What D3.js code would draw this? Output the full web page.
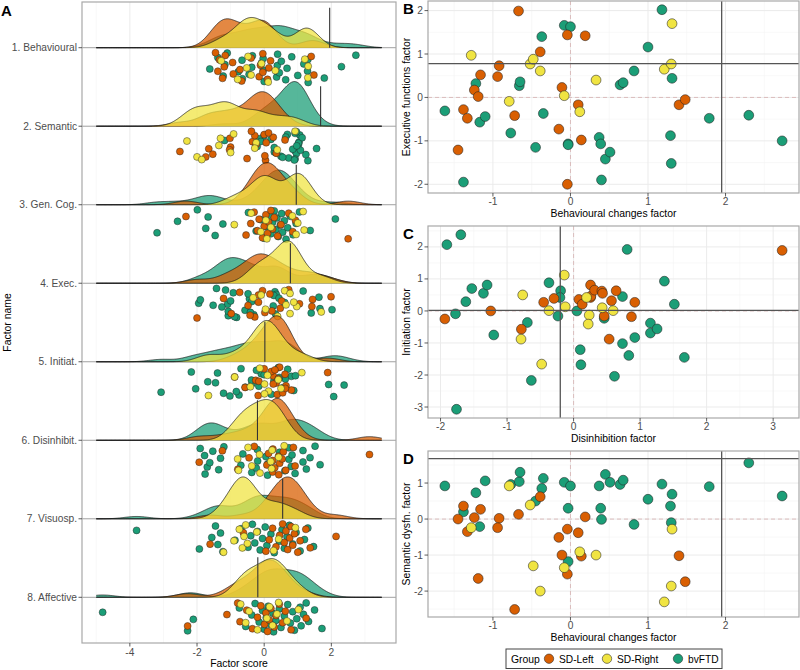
<!DOCTYPE html>
<html><head><meta charset="utf-8">
<script src="https://cdn.jsdelivr.net/npm/d3@7"></script>
<style>body{margin:0;background:#fff} text{font-family:"Liberation Sans",Arial,Helvetica,sans-serif}</style>
</head><body><svg id="chart" width="800" height="670"></svg>
<script>
// ---------------- DATA ----------------
const groups = ["SD-Left", "SD-Right", "bvFTD"];
const groupColors = ["#D95F02", "#F0E442", "#1B9E77"];
const factorNames = ["1. Behavioural", "2. Semantic", "3. Gen. Cog.", "4. Exec.", "5. Initiat.", "6. Disinhibit.", "7. Visuosp.", "8. Affective"];
const cutoffs = [1.95, 1.68, 0.955, 0.78, 0.02, -0.2, 0.55, -0.19];
const scoreTicks = [-4, -2, 0, 2];
const densityFrom = -5, densityTo = 3.5;

// SD-Left
const behavLeft = [-1.45,-1.38,-1.33,-1.24,-1.19,-1.16,-0.92,-0.94,-0.67,-0.72,-0.39,-0.15,-0.11,-0.04,-0.04,0.19,0.10,0.14,1.40,1.48];
const execLeft = [-1.21,-0.28,-0.48,0.17,0.02,0.52,0.73,0.48,1.99,-0.42,1.05,-0.73,0.23,1.44,-2.00,1.42,-0.17,-0.98,-0.17,-0.05];
const semLeft = [0.00,0.36,-0.35,0.04,-1.65,0.27,0.02,-0.24,0.13,-2.51,0.62,-0.51,-1.00,-0.28,-1.53,0.06,-0.38,-1.03,-1.02,-1.74];
const disinhLeft = [-1.935,-1.245,-0.785,-0.45,-0.295,0.08,0.13,0.255,0.255,0.26,0.315,0.425,0.435,0.46,0.57,0.64,0.535,0.87,0.92,3.135];
const initLeft = [-0.25,0.00,-0.57,0.27,0.39,0.36,0.21,0.81,0.42,0.46,0.65,0.62,0.55,-0.16,0.32,0.63,-0.88,-0.18,0.27,1.89];
const genCogLeft = [-2.33,-0.54,-0.4,-0.3,-0.2,-0.15,-0.05,0.0,0.05,0.1,0.13,0.2,0.25,0.3,0.4,0.5,0.73,0.85,0.93,2.50];
const visuoLeft = [-1.61,-0.62,0.05,0.15,0.25,0.35,0.46,0.55,0.6,0.65,0.7,0.76,0.8,0.85,0.9,1.0,1.07,1.24,1.37,2.14];
const affectLeft = [-2.28,-1.11,-0.79,-0.72,-0.52,-0.35,-0.2,-0.1,0.01,0.05,0.1,0.15,0.2,0.3,0.35,0.45,0.55,0.63,0.8,1.25];

// SD-Right
const behavRight = [-1.28,-0.79,-0.52,-0.48,-0.39,-0.08,0.12,0.33,1.21,1.30,1.31];
const execRight = [0.97,-0.09,0.77,0.88,0.61,0.04,-0.33,0.40,0.65,0.77,1.70];
const semRight = [-0.24,0.92,0.39,-1.30,-2.00,-1.35,-0.91,-1.00,-2.30,-1.86,-0.28];
const disinhRight = [-0.765,-0.79,-0.48,-0.37,-0.14,-0.125,0.195,0.235,0.22,0.43,0.595];
const initRight = [0.50,-0.88,-1.66,0.01,1.12,0.13,0.42,-0.13,-0.41,0.10,0.01];
const genCogRight = [-0.89,-0.39,-0.1,0.05,0.08,0.2,0.84,0.95,1.0,1.16,1.19];
const visuoRight = [-1.21,-0.90,-0.74,-0.65,-0.6,-0.55,-0.5,-0.22,0.28,0.43,0.93];
const affectRight = [-0.70,-0.55,-0.45,-0.2,0.08,0.16,0.25,0.38,0.43,0.68,1.02];

// bvFTD
const behavBv = [-1.62,-1.38,-1.22,-1.17,-1.10,-0.77,-0.66,-0.65,-0.37,-0.35,-0.45,-0.08,0.00,-0.03,-0.03,0.37,0.39,0.40,0.45,0.51,0.64,0.68,0.82,1.00,1.18,1.31,1.29,1.30,1.79,2.30,2.73];
const execBv = [-0.31,-1.95,0.32,-0.57,-0.44,-0.82,0.27,0.36,1.40,-0.37,-1.15,1.66,1.63,-1.07,-1.09,-0.92,-1.07,-1.90,-1.42,-1.26,0.29,0.34,0.61,1.16,2.02,0.44,-0.88,-1.52,-0.48,-0.41,-1.00];
const semBv = [0.92,0.20,0.73,-0.21,1.06,0.96,1.04,1.30,0.85,1.13,0.50,1.02,0.92,0.30,-1.18,0.92,0.30,-0.01,1.24,1.02,0.96,1.08,-0.15,0.55,0.97,0.69,0.36,-0.10,0.90,1.56,0.64];
const disinhBv = [-1.905,-1.695,-1.775,-1.76,-1.62,-1.53,-1.355,-1.30,-1.20,-0.695,-0.635,-0.37,-0.195,-0.205,-0.235,0.05,0.10,0.11,0.46,0.615,0.735,0.735,0.805,0.83,0.92,1.155,1.155,1.255,1.365,1.515,1.665];
const initBv = [2.07,2.38,-0.09,-3.07,0.29,0.70,0.55,0.81,-0.75,-0.36,-2.17,0.88,0.63,0.42,-0.16,0.00,-1.21,-1.68,-0.23,-2.04,0.45,-1.02,1.92,-1.39,-0.83,-0.38,-0.69,-0.56,0.93,0.21,-1.45];
const genCogBv = [-3.19,-2.58,-1.99,-1.74,-1.67,-1.46,-1.23,-0.47,-0.24,-0.1,0.0,0.08,0.15,0.2,0.25,0.3,0.35,0.38,0.42,0.48,0.52,0.55,0.6,0.65,0.7,0.78,0.86,0.95,1.05,1.37,2.12];
const visuoBv = [-3.80,-1.93,-1.56,-1.45,-1.38,-1.3,-1.23,-0.87,-0.69,-0.48,-0.40,-0.35,-0.28,-0.2,-0.12,-0.05,0.03,0.08,0.2,0.3,0.45,0.53,0.6,0.68,0.75,0.85,0.95,1.07,1.2,1.3,1.47];
const affectBv = [-4.81,-2.28,-2.11,-0.74,-0.55,-0.37,-0.27,-0.15,-0.05,0.0,0.06,0.12,0.2,0.26,0.28,0.35,0.45,0.5,0.6,0.7,0.78,0.85,0.9,0.97,1.07,1.1,1.17,1.25,1.32,1.5,1.72];

// ---------------- DRAW ----------------
const factorData = [
  [behavLeft, behavRight, behavBv],
  [semLeft, semRight, semBv],
  [genCogLeft, genCogRight, genCogBv],
  [execLeft, execRight, execBv],
  [initLeft, initRight, initBv],
  [disinhLeft, disinhRight, disinhBv],
  [visuoLeft, visuoRight, visuoBv],
  [affectLeft, affectRight, affectBv]
];
const svg = d3.select("#chart");
const TICK_COL = "#4D4D4D", BORDER = "#A8A8A8", GRID = "#EBEBEB", GRID_MINOR = "#F4F4F4";
const drawOrder = [2, 0, 1];

function expand(ext, f = 0.05) { const r = ext[1] - ext[0]; return [ext[0] - r * f, ext[1] + r * f]; }
function bwNrd0(x) {
  const s = x.slice().sort(d3.ascending);
  const sd = d3.deviation(s);
  const iqr = d3.quantileSorted(s, 0.75) - d3.quantileSorted(s, 0.25);
  let lo = Math.min(sd, iqr / 1.34);
  if (!(lo > 0)) lo = sd || 1;
  return 0.9 * lo * Math.pow(s.length, -0.2);
}

// ---------- Panel A ----------
const A = { left: 82, right: 396, top: 2, bottom: 643 };
const xA = d3.scaleLinear().domain(expand([densityFrom, densityTo])).range([A.left, A.right]);
const yA = d3.scalePoint().domain(factorNames).range([47.7, 597.3]);
const gA = svg.append("g");

[-5, -3, -1, 1, 3].forEach(v => gA.append("line").attr("x1", xA(v)).attr("x2", xA(v)).attr("y1", A.top).attr("y2", A.bottom).attr("stroke", GRID_MINOR).attr("stroke-width", 0.6));
scoreTicks.forEach(v => gA.append("line").attr("x1", xA(v)).attr("x2", xA(v)).attr("y1", A.top).attr("y2", A.bottom).attr("stroke", GRID).attr("stroke-width", 1));
factorNames.forEach(f => gA.append("line").attr("x1", A.left).attr("x2", A.right).attr("y1", yA(f)).attr("y2", yA(f)).attr("stroke", "#A0A0A0").attr("stroke-width", 1));

const bws = [];
factorData.forEach(row => row.forEach(arr => bws.push(bwNrd0(arr))));
const bw = d3.mean(bws);
const nGrid = 512;
const gridX = d3.range(nGrid).map(i => densityFrom + (densityTo - densityFrom) * i / (nGrid - 1));
function kde(arr) {
  const c = 1 / (arr.length * bw * Math.sqrt(2 * Math.PI));
  return gridX.map(x => [x, c * d3.sum(arr, v => Math.exp(-0.5 * ((x - v) / bw) ** 2))]);
}
const dens = factorData.map(row => row.map(kde));
const maxD = d3.max(dens.flat(), d => d3.max(d, p => p[1]));
const hScale = 46 / maxD;

factorNames.forEach((f, i) => {
  const yb = yA(f);
  drawOrder.forEach(g => {
    const d = dens[i][g];
    gA.append("path").datum(d)
      .attr("d", d3.area().x(p => xA(p[0])).y0(yb).y1(p => yb - p[1] * hScale))
      .attr("fill", groupColors[g]).attr("fill-opacity", 0.74).attr("stroke", "none");
    gA.append("path").datum(d)
      .attr("d", d3.line().x(p => xA(p[0])).y(p => yb - p[1] * hScale))
      .attr("fill", "none").attr("stroke", "#111").attr("stroke-width", 0.7);
  });
  gA.append("line").attr("x1", xA(cutoffs[i])).attr("x2", xA(cutoffs[i]))
    .attr("y1", yb).attr("y2", yb - 40).attr("stroke", "#333").attr("stroke-width", 1.1);
  drawOrder.forEach(g => {
    factorData[i][g].forEach((v, k) => {
      const jit = (k * 0.6180339887 + g * 0.271 + i * 0.113) % 1;
      gA.append("circle").attr("cx", xA(v)).attr("cy", yb + 5 + 30 * jit).attr("r", 3.5)
        .attr("fill", groupColors[g]).attr("stroke", "#222").attr("stroke-width", 0.45);
    });
  });
});
gA.append("rect").attr("x", A.left).attr("y", A.top).attr("width", A.right - A.left).attr("height", A.bottom - A.top)
  .attr("fill", "none").attr("stroke", BORDER).attr("stroke-width", 1.2);
factorNames.forEach(f => {
  gA.append("line").attr("x1", A.left - 3.5).attr("x2", A.left).attr("y1", yA(f)).attr("y2", yA(f)).attr("stroke", "#333").attr("stroke-width", 0.8);
  gA.append("text").attr("x", A.left - 5).attr("y", yA(f)).attr("dy", "0.35em").attr("text-anchor", "end")
    .attr("font-size", 10.2).attr("fill", TICK_COL).text(f);
});
scoreTicks.forEach(v => {
  gA.append("line").attr("x1", xA(v)).attr("x2", xA(v)).attr("y1", A.bottom).attr("y2", A.bottom + 3.5).attr("stroke", "#333").attr("stroke-width", 0.8);
  gA.append("text").attr("x", xA(v)).attr("y", 655.5).attr("text-anchor", "middle").attr("font-size", 10.2).attr("fill", TICK_COL).text(v < 0 ? "-" + Math.abs(v) : v);
});
gA.append("text").attr("x", (A.left + A.right) / 2).attr("y", 667).attr("text-anchor", "middle").attr("font-size", 10.4).attr("fill", "#000").text("Factor score");
gA.append("text").attr("transform", `translate(10.5,${(A.top + A.bottom) / 2}) rotate(-90)`).attr("text-anchor", "middle").attr("font-size", 10.4).attr("fill", "#000").text("Factor name");
svg.append("text").attr("x", 1).attr("y", 15.5).attr("font-size", 15).attr("font-weight", "bold").text("A");

// ---------- Scatter panels ----------
function scatterPanel(o) {
  const g = svg.append("g");
  const xs = o.xData.flat(), ys = o.yData.flat();
  const x = d3.scaleLinear().domain(expand(d3.extent(xs.concat([o.xCut])))).range([o.left, o.right]);
  const y = d3.scaleLinear().domain(expand(d3.extent(ys.concat([o.yCut])))).range([o.bottom, o.top]);
  const xt = x.ticks(5).filter(Number.isInteger), yt = y.ticks(5).filter(Number.isInteger);
  const minor = (t, sc) => { const out = []; const dm = sc.domain(); for (let v = t[0] - 0.5; v <= t[t.length - 1] + 0.5; v += 1) if (v > dm[0] && v < dm[1]) out.push(v); return out; };
  minor(xt, x).forEach(v => g.append("line").attr("x1", x(v)).attr("x2", x(v)).attr("y1", o.top).attr("y2", o.bottom).attr("stroke", GRID_MINOR).attr("stroke-width", 0.6));
  minor(yt, y).forEach(v => g.append("line").attr("y1", y(v)).attr("y2", y(v)).attr("x1", o.left).attr("x2", o.right).attr("stroke", GRID_MINOR).attr("stroke-width", 0.6));
  xt.forEach(v => g.append("line").attr("x1", x(v)).attr("x2", x(v)).attr("y1", o.top).attr("y2", o.bottom).attr("stroke", GRID).attr("stroke-width", 1));
  yt.forEach(v => g.append("line").attr("y1", y(v)).attr("y2", y(v)).attr("x1", o.left).attr("x2", o.right).attr("stroke", GRID).attr("stroke-width", 1));
  g.append("line").attr("x1", x(0)).attr("x2", x(0)).attr("y1", o.top).attr("y2", o.bottom).attr("stroke", "#D9B8B8").attr("stroke-width", 0.9).attr("stroke-dasharray", "4,3");
  g.append("line").attr("y1", y(0)).attr("y2", y(0)).attr("x1", o.left).attr("x2", o.right).attr("stroke", "#D9B8B8").attr("stroke-width", 0.9).attr("stroke-dasharray", "4,3");
  drawOrder.forEach(gi => {
    o.xData[gi].forEach((v, k) => {
      g.append("circle").attr("cx", x(v)).attr("cy", y(o.yData[gi][k])).attr("r", 4.9)
        .attr("fill", groupColors[gi]).attr("stroke", "#222").attr("stroke-width", 0.55);
    });
  });
  g.append("line").attr("x1", x(o.xCut)).attr("x2", x(o.xCut)).attr("y1", o.top).attr("y2", o.bottom).attr("stroke", "#555").attr("stroke-width", 1.3);
  g.append("line").attr("y1", y(o.yCut)).attr("y2", y(o.yCut)).attr("x1", o.left).attr("x2", o.right).attr("stroke", "#555").attr("stroke-width", 1.3);
  g.append("rect").attr("x", o.left).attr("y", o.top).attr("width", o.right - o.left).attr("height", o.bottom - o.top)
    .attr("fill", "none").attr("stroke", BORDER).attr("stroke-width", 1.2);
  const fmt = v => (v < 0 ? "-" + Math.abs(v) : "" + v);
  xt.forEach(v => {
    g.append("line").attr("x1", x(v)).attr("x2", x(v)).attr("y1", o.bottom).attr("y2", o.bottom + 3.5).attr("stroke", "#333").attr("stroke-width", 0.8);
    g.append("text").attr("x", x(v)).attr("y", o.bottom + 12).attr("text-anchor", "middle").attr("font-size", 10.2).attr("fill", TICK_COL).text(fmt(v));
  });
  yt.forEach(v => {
    g.append("line").attr("x1", o.left - 3.5).attr("x2", o.left).attr("y1", y(v)).attr("y2", y(v)).attr("stroke", "#333").attr("stroke-width", 0.8);
    g.append("text").attr("x", o.left - 5).attr("y", y(v)).attr("dy", "0.35em").attr("text-anchor", "end").attr("font-size", 10.2).attr("fill", TICK_COL).text(fmt(v));
  });
  g.append("text").attr("x", (o.left + o.right) / 2).attr("y", o.bottom + 24).attr("text-anchor", "middle").attr("font-size", 10.4).attr("fill", "#000").text(o.xTitle);
  g.append("text").attr("transform", `translate(${o.left - 18},${(o.top + o.bottom) / 2}) rotate(-90)`).attr("text-anchor", "middle").attr("font-size", 10.4).attr("fill", "#000").text(o.yTitle);
  svg.append("text").attr("x", 403).attr("y", o.top + 12.5).attr("font-size", 15).attr("font-weight", "bold").text(o.label);
}

scatterPanel({ left: 428, right: 799, top: 1, bottom: 193, label: "B",
  xData: [behavLeft, behavRight, behavBv], yData: [execLeft, execRight, execBv],
  xCut: cutoffs[0], yCut: cutoffs[3], xTitle: "Behavioural changes factor", yTitle: "Executive functions factor" });
scatterPanel({ left: 428, right: 799, top: 226, bottom: 418, label: "C",
  xData: [disinhLeft, disinhRight, disinhBv], yData: [initLeft, initRight, initBv],
  xCut: cutoffs[5], yCut: cutoffs[4], xTitle: "Disinhibition factor", yTitle: "Initiation factor" });
scatterPanel({ left: 428, right: 799, top: 451, bottom: 617, label: "D",
  xData: [behavLeft, behavRight, behavBv], yData: [semLeft, semRight, semBv],
  xCut: cutoffs[0], yCut: cutoffs[1], xTitle: "Behavioural changes factor", yTitle: "Semantic dysfn. factor" });

// ---------- Legend ----------
const lg = svg.append("g");
lg.append("rect").attr("x", 506).attr("y", 649).attr("width", 216).attr("height", 19.5).attr("fill", "#fff").attr("stroke", "#444").attr("stroke-width", 1);
lg.append("text").attr("x", 511).attr("y", 662.5).attr("font-size", 10.4).attr("fill", "#000").text("Group");
const legX = [549, 607, 678];
groups.forEach((gname, i) => {
  lg.append("circle").attr("cx", legX[i]).attr("cy", 658.7).attr("r", 4.7).attr("fill", groupColors[i]).attr("stroke", "#222").attr("stroke-width", 0.55);
  lg.append("text").attr("x", legX[i] + 10).attr("y", 662.5).attr("font-size", 10.2).attr("fill", "#000").text(gname);
});
</script></body></html>
